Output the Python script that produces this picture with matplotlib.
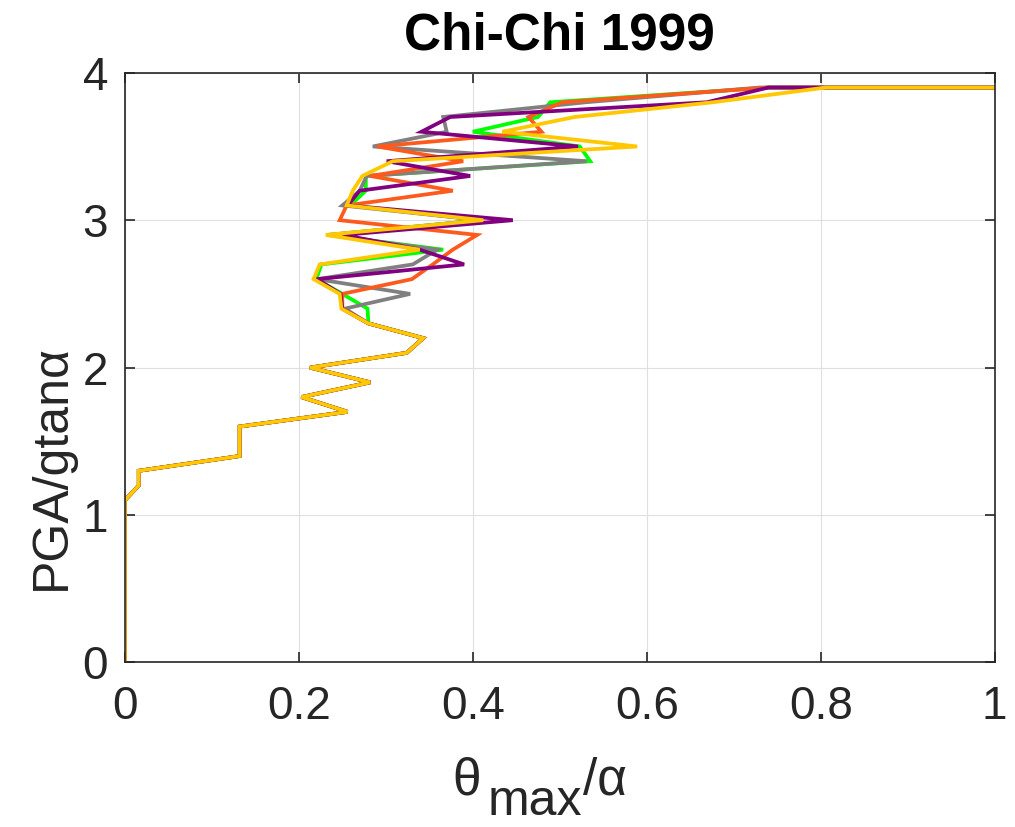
import matplotlib
matplotlib.use("Agg")
import matplotlib.pyplot as plt

plt.rcParams['font.family'] = ['Liberation Sans', 'DejaVu Sans']

# PGA/gtan(alpha) levels, 0.0 .. 3.9 in steps of 0.1, plus the final run-out point
pga = [round(0.1 * k, 1) for k in range(40)] + [3.9]

# shared lower part (0.0 .. 2.3)
common = [0, 0, 0, 0, 0, 0, 0, 0, 0, 0, 0, 0,
          0.016, 0.016, 0.132, 0.132, 0.132, 0.256, 0.203, 0.282,
          0.213, 0.324, 0.343, 0.28]

# upper part (2.4 .. 3.9, then run-out to 1)
green_top = [0.279, 0.25, 0.22, 0.226, 0.366, 0.233, 0.41, 0.259, 0.277, 0.277,
             0.535, 0.523, 0.40, 0.475, 0.489, 0.74, 1.0]
gray_top = [0.253, 0.328, 0.221, 0.331, 0.359, 0.235, 0.41, 0.25, 0.27, 0.278,
            0.531, 0.285, 0.37, 0.366, 0.53, 0.73, 1.0]
orange_top = [0.25, 0.25, 0.33, 0.354, 0.377, 0.405, 0.247, 0.255, 0.377, 0.282,
              0.389, 0.29, 0.479, 0.464, 0.503, 0.74, 1.0]
purple_top = [0.25, 0.248, 0.221, 0.39, 0.339, 0.251, 0.446, 0.256, 0.270, 0.397,
              0.301, 0.521, 0.341, 0.374, 0.669, 0.74, 1.0]
gold_top = [0.249, 0.247, 0.217, 0.224, 0.339, 0.231, 0.412, 0.255, 0.262, 0.273,
            0.308, 0.589, 0.434, 0.517, 0.676, 0.806, 1.0]

series = [
    ('green', green_top, '#00ff00'),
    ('gray', gray_top, '#808080'),
    ('orange', orange_top, '#ff5a1e'),
    ('purple', purple_top, '#800080'),
    ('gold', gold_top, '#ffc800'),
]

txt = '#262626'

fig = plt.figure(figsize=(10.15, 8.27), dpi=100)
ax = fig.add_axes([0.123, 0.199, 0.857, 0.713])

for name, top, color in series:
    ax.plot(common + top, pga, color=color, lw=2.7, solid_joinstyle='miter')

ax.set_xlim(0, 1)
ax.set_ylim(0, 4)
ax.set_xticks([0, 0.2, 0.4, 0.6, 0.8, 1])
ax.set_xticklabels(['0', '0.2', '0.4', '0.6', '0.8', '1'])
ax.set_yticks([0, 1, 2, 3, 4])
ax.grid(True, color='#dfdfdf', lw=0.8)
ax.set_axisbelow(True)
ax.tick_params(direction='in', length=7.5, width=1.2, top=True, right=True,
               labelsize=33, colors=txt)
ax.tick_params(axis='x', pad=16)
ax.tick_params(axis='y', pad=12)
for sp in ax.spines.values():
    sp.set_linewidth(1.2)
    sp.set_color(txt)

ax.set_title('Chi-Chi 1999', fontsize=37, fontweight='bold', pad=17)
ax.set_ylabel('PGA/gtan\u03b1', fontsize=36, color=txt)
ax.yaxis.set_label_coords(-0.057, 0.331)

# x label with a full-size lowered subscript, as in the original
t1 = fig.text(0.446, 0.039, '\u03b8', fontsize=37, color=txt, va='baseline')
t2 = ax.annotate('max', xy=(1, 0), xycoords=t1, xytext=(5, -14),
                 textcoords='offset points', fontsize=36, color=txt,
                 va='bottom', ha='left', annotation_clip=False)
t3 = ax.annotate('/\u03b1', xy=(1, 0), xycoords=(t2, t1), xytext=(0, 0),
                 textcoords='offset points', fontsize=37, color=txt,
                 va='bottom', ha='left', annotation_clip=False)

fig.savefig('out.png', dpi=100)
